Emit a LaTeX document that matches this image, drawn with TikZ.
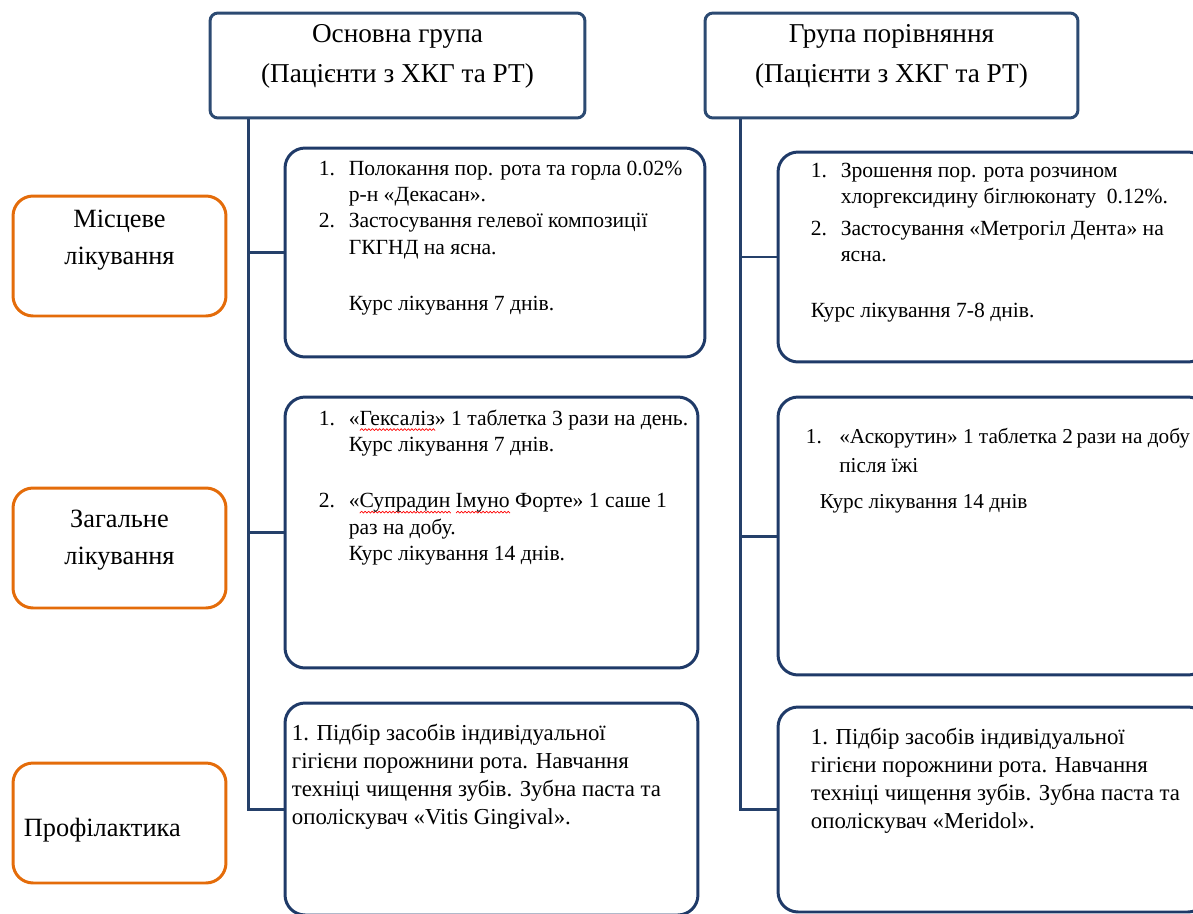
\documentclass[tikz,border=0pt]{standalone}
\usepackage{fontspec}
\setmainfont{Liberation Serif}
\usetikzlibrary{positioning,calc}

\definecolor{boxblue}{HTML}{1F3A68}
\definecolor{hdrblue}{HTML}{2C4A72}
\definecolor{lineblue}{HTML}{25406A}
\definecolor{labelorange}{HTML}{E46C0A}

\newcommand{\wavebit}{\rotatebox[origin=c]{45}{\rule{1.5pt}{0.4pt}}\kern-0.35pt\rotatebox[origin=c]{-45}{\rule{1.5pt}{0.4pt}}\kern-0.35pt}
\newcommand{\spellwave}[1]{\sbox0{#1}\rlap{\raisebox{-2.6pt}{\hbox to \wd0{\color{red}\xleaders\hbox{\wavebit}\hfill}}}#1}
\newcommand{\nm}[1]{\makebox[17pt][l]{#1}}
\newcommand{\ind}{\hspace*{17pt}}

\begin{document}
\begin{tikzpicture}[
    x=0.02cm, y=-0.02cm,
    grp/.style={draw=hdrblue, line width=1.7pt, rounded corners=0.16cm, minimum height=2.1cm},
    item/.style={draw=boxblue, line width=1.7pt, rounded corners=0.4cm},
    lbl/.style={draw=labelorange, line width=1.7pt, rounded corners=0.4cm, minimum width=4.26cm, minimum height=2.4cm},
    hdrtxt/.style={anchor=north, inner sep=0pt, align=center, font=\fontsize{15.5}{22.7}\selectfont},
    lbltxt/.style={anchor=north, inner sep=0pt, align=center, font=\fontsize{15}{21}\selectfont},
    txt/.style={anchor=north west, inner sep=0pt, align=left, font=\fontsize{12.3}{15}\selectfont},
    ptxt/.style={anchor=north west, inner sep=0pt, align=left, font=\fontsize{13}{15.9}\selectfont},
    link/.style={draw=lineblue, line width=1.7pt}
]
    \useasboundingbox (0,0) rectangle (1193,913);

    % Групи
    \node[grp, minimum width=7.5cm] (g1) at (397.5,65.5) {};
    \node[grp, minimum width=7.46cm] (g2) at (891.5,65.5) {};
    \node[hdrtxt] (g1t) at ($(g1.north)+(0,13)$) {Основна група\\(Пацієнти з ХКГ та РТ)};
    \node[hdrtxt] (g2t) at ($(g2.north)+(0,13)$) {Група порівняння\\(Пацієнти з ХКГ та РТ)};

    % Етапи лікування
    \node[lbl] (l1) at (119.5,256) {};
    \node[lbl] (l2) at (119.5,548) {};
    \node[lbl] (l3) at (119.5,823) {};
    \node[lbltxt] (l1t) at ($(l1.north)+(0,15)$) {Місцеве\\лікування};
    \node[lbltxt] (l2t) at ($(l2.north)+(0,23)$) {Загальне\\лікування};
    \node[lbltxt, anchor=north west] (l3t) at ($(l3.north west)+(12,56)$) {Профілактика};

    % Основна група
    \node[item, minimum width=8.4cm, minimum height=4.18cm] (b11) at (495,252.5) {};
    \node[item, minimum width=8.26cm, minimum height=5.42cm] (b21) at (491.5,532.5) {};
    \node[item, minimum width=8.26cm, minimum height=4.24cm] (b31) at (491.5,809) {};

    \node[txt] (t11) at ($(b11.north west)+(35,14)$) {%
        \nm{1.}Полокання пор. рота та горла 0.02\%\\
        \ind р-н «Декасан».\\
        \nm{2.}Застосування гелевої композиції\\
        \ind ГКГНД на ясна.\\[17pt]
        \ind Курс лікування 7 днів.};
    \node[txt] (t21) at ($(b21.north west)+(35,14)$) {%
        \nm{1.}«\spellwave{Гексаліз}» 1 таблетка 3 рази на день.\\
        \ind Курс лікування 7 днів.\\[17pt]
        \nm{2.}«\spellwave{Супрадин} \spellwave{Імуно} Форте» 1 саше 1\\
        \ind раз на добу.\\
        \ind Курс лікування 14 днів.};
    \node[ptxt] (t31) at ($(b31.north west)+(8,22)$) {%
        1. Підбір засобів індивідуальної\\
        гігієни порожнини рота. Навчання\\
        техніці чищення зубів. Зубна паста та\\
        ополіскувач «Vitis Gingival».};

    % Група порівняння
    \node[item, minimum width=8.6cm, minimum height=4.2cm] (b12) at (993,257) {};
    \node[item, minimum width=8.6cm, minimum height=5.56cm] (b22) at (993,536) {};
    \node[item, minimum width=8.6cm, minimum height=4.1cm] (b32) at (993,809.5) {};

    \node[txt] (t12) at ($(b12.north west)+(34,12)$) {%
        \nm{1.}Зрошення пор. рота розчином\\
        \ind хлоргексидину біглюконату~~0.12\%.\\[3pt]
        \nm{2.}Застосування «Метрогіл Дента» на\\
        \ind ясна.\\[17pt]
        Курс лікування 7-8 днів.};
    \node[txt, font=\fontsize{12.1}{15}\selectfont] (t22) at ($(b22.north west)+(29,32)$) {%
        \makebox[19pt][l]{1.}«Аскорутин» 1 таблетка 2\,рази на добу\\[1.7pt]
        \hspace*{19pt}після їжі\\[5.6pt]
        \hspace*{8pt}Курс лікування 14 днів};
    \node[ptxt] (t32) at ($(b32.north west)+(34,22)$) {%
        1. Підбір засобів індивідуальної\\
        гігієни порожнини рота. Навчання\\
        техніці чищення зубів. Зубна паста та\\
        ополіскувач «Meridol».};

    % З'єднання
    \coordinate (s1) at ($(g1.south west)+(40,0)$);
    \coordinate (s2) at ($(g2.south west)+(37,0)$);
    \draw[link] (s1) |- (b11.west);
    \draw[link] (s1) |- (b21.west);
    \draw[link] (s1) |- (b31.west);
    \draw[link] (s2) |- (b12.west);
    \draw[link] (s2) |- (b22.west);
    \draw[link] (s2) |- (b32.west);
\end{tikzpicture}
\end{document}
